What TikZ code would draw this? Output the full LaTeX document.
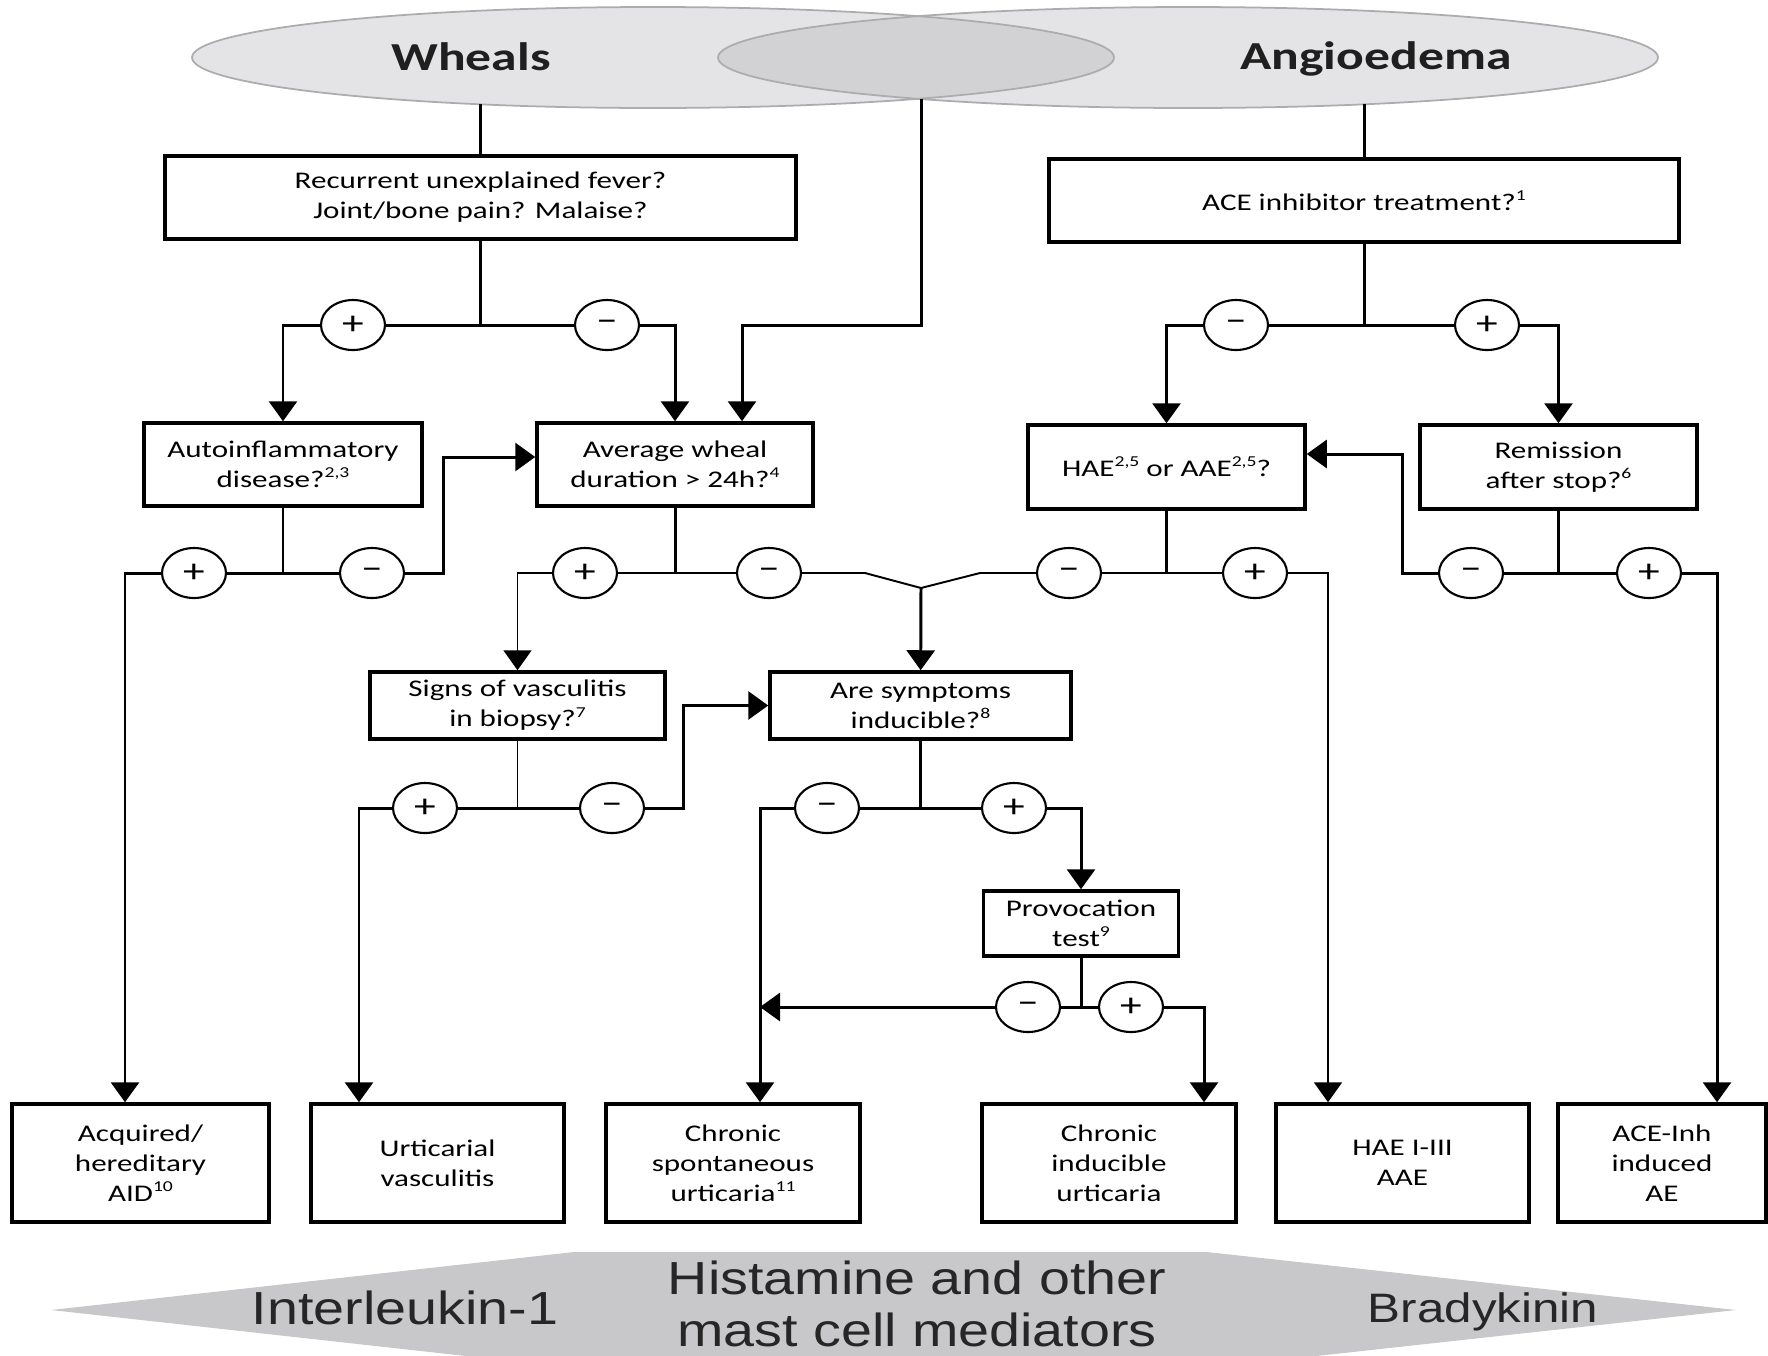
\documentclass[tikz,border=0pt]{standalone}
\usepackage{fontspec}
\setmainfont{Carlito}[FakeStretch=1.3]
\newfontfamily\bannerfont{Liberation Sans}[FakeStretch=1.2]
\usepackage{tikz}
\usetikzlibrary{shapes.geometric,arrows.meta,positioning,calc}
\definecolor{ellfill}{RGB}{228,228,230}
\definecolor{ellover}{RGB}{210,210,212}
\definecolor{elldraw}{RGB}{172,172,175}
\definecolor{banfill}{RGB}{200,200,202}
\newcommand{\fnote}[1]{\raisebox{0.85ex}{\fontsize{4.3}{5}\selectfont#1}}

\begin{document}
\begin{tikzpicture}[
    x=0.1mm, y=-0.1mm,
    qbox/.style={rectangle, draw, line width=1pt, inner sep=0pt, align=center, font=\fontsize{6.8}{8.5}\selectfont},
    outbox/.style={qbox, minimum height=11.8mm},
    pm/.style={ellipse, draw, line width=0.6pt, fill=white, minimum width=6.4mm, minimum height=5mm, inner sep=0pt, font=\fontsize{9.5}{9.5}\selectfont},
    wire/.style={line width=0.85pt},
    twire/.style={line width=0.55pt},
    arr/.style={-{Triangle[width=2.8mm, length=2mm]}},
    title/.style={anchor=base, font=\fontsize{11.3}{13}\selectfont\bfseries, text=black!88},
    band/.style={font=\bannerfont\fontsize{13.2}{14.7}\selectfont, align=center, text=black!85}
]
\useasboundingbox (0,0) rectangle (1768,1355);
\clip (0,0) rectangle (1768,1355);

% ═══════════════════════════════════════════════════════════════
% Top: Wheals / Angioedema
% ═══════════════════════════════════════════════════════════════
\fill[ellfill] (653,57.5) ellipse [x radius=46.1mm, y radius=5.05mm];
\fill[ellfill] (1188,57.5) ellipse [x radius=47mm, y radius=5.05mm];
\begin{scope}
\clip (653,57.5) ellipse [x radius=46.1mm, y radius=5.05mm];
\fill[ellover] (1188,57.5) ellipse [x radius=47mm, y radius=5.05mm];
\end{scope}
\draw[elldraw, line width=0.5pt] (653,57.5) ellipse [x radius=46.1mm, y radius=5.05mm];
\draw[elldraw, line width=0.5pt] (1188,57.5) ellipse [x radius=47mm, y radius=5.05mm];

\node[title] (wheals) at (471,70) {Wheals};
\node[title] (angio) at (1376,69) {Angioedema};

\coordinate (whbot) at (480.5,104.3);
\coordinate (ovbot) at (921,98.6);
\coordinate (anbot) at (1364,104.3);

% question boxes
\node[qbox, minimum width=63.1mm, minimum height=8.3mm] (rec) at (480.5,197.5) {Recurrent unexplained fever?\\Joint/bone pain? Malaise?};
\node[qbox, minimum width=63mm, minimum height=8.3mm] (ace) at (1364,200.5) {ACE inhibitor treatment?\fnote{1}};
\node[qbox, minimum width=27.8mm, minimum height=8.3mm] (aid) at (283,464.5) {Autoinflammatory\\disease?\fnote{2,3}};
\node[qbox, minimum width=27.6mm, minimum height=8.3mm] (avg) at (675,464.5) {Average wheal\\duration > 24h?\fnote{4}};
\node[qbox, minimum width=27.7mm, minimum height=8.4mm] (hae) at (1166.5,467) {HAE\fnote{2,5} or AAE\fnote{2,5}?};
\node[qbox, minimum width=27.7mm, minimum height=8.4mm] (rem) at (1558.5,467) {Remission\\after stop?\fnote{6}};
\node[qbox, minimum width=29.5mm, minimum height=6.7mm] (vasc) at (517.5,705.5) {Signs of vasculitis\\in biopsy?\fnote{7}};
\node[qbox, minimum width=30.1mm, minimum height=6.7mm] (ind) at (920.5,705.5) {Are symptoms\\inducible?\fnote{8}};
\node[qbox, minimum width=19.5mm, minimum height=6.5mm] (prov) at (1081,923.5) {Provocation\\test\fnote{9}};

% diagnoses
\node[outbox, minimum width=25.7mm] (aidres) at (140.5,1163) {Acquired/\\hereditary\\AID\fnote{10}};
\node[outbox, minimum width=25.3mm] (uv) at (437.5,1163) {Urticarial\\vasculitis};
\node[outbox, minimum width=25.4mm] (csu) at (733,1163) {Chronic\\spontaneous\\urticaria\fnote{11}};
\node[outbox, minimum width=25.4mm] (cindu) at (1109,1163) {Chronic\\inducible\\urticaria};
\node[outbox, minimum width=25.3mm] (haeres) at (1402.5,1163) {HAE I-III\\AAE};
\node[outbox, minimum width=20.8mm] (aceae) at (1662,1163) {ACE-Inh\\induced\\AE};

% ═══════════════════════════════════════════════════════════════
% Decisions
% ═══════════════════════════════════════════════════════════════
\draw[wire] (whbot) -- (rec);
\draw[wire] (anbot) -- (ace);

% fever?
\coordinate (ovbend) at (742,325);
\draw[wire] (rec) -- (rec |- ovbend);
\draw[wire,arr] (ovbot) |- (ovbend) -- (ovbend |- avg.north);
\node[pm] (p1) at (353,325) {+};
\node[pm] (m1) at (607,325) {--};
\draw[wire] (p1) -- (m1);
\draw[wire,arr] (p1) -| (aid);
\draw[wire,arr] (m1) -| (avg);

% ACE inhibitor?
\node[pm] (m2) at (1236,325) {--};
\node[pm] (p2) at (1487,325) {+};
\draw[wire] (ace) -- (ace |- m2);
\draw[wire] (m2) -- (p2);
\draw[wire,arr] (m2) -| (hae);
\draw[wire,arr] (p2) -| (rem);

% autoinflammatory?
\node[pm] (p3) at (194,573) {+};
\node[pm] (m3) at (372,573) {--};
\coordinate (c3) at (125,573);
\coordinate (c4) at (443,573);
\coordinate (c4b) at (443,457);
\draw[wire] (aid) -- (aid |- p3);
\draw[wire] (p3) -- (m3);
\draw[wire,arr] (p3) -- (c3) -- (c3 |- aidres.north);
\draw[wire,arr] (m3) -- (c4) -- (c4b) -- (c4b -| avg.west);

% wheal duration?
\node[pm] (p4) at (585,573) {+};
\node[pm] (m4) at (769,573) {--};
\coordinate (yl) at (865,573);
\coordinate (ym) at (921,588);
\coordinate (yr) at (980,573);
\draw[wire] (avg) -- (avg |- p4);
\draw[twire] (p4) -- (m4);
\draw[twire,arr] (p4) -| (vasc);
\draw[twire] (m4) -- (yl) -- (ym) -- (yr);
\draw[wire,arr] (ym) -- (ind);

% HAE or AAE?
\node[pm] (m5) at (1069,573) {--};
\node[pm] (p5) at (1255,573) {+};
\coordinate (c6) at (1328,573);
\draw[twire] (yr) -- (m5);
\draw[wire] (hae) -- (hae |- m5);
\draw[twire] (m5) -- (p5);
\draw[twire,arr] (p5) -- (c6) -- (c6 |- haeres.north);

% remission?
\node[pm] (m6) at (1471,573) {--};
\node[pm] (p6) at (1649,573) {+};
\coordinate (c7) at (1402,573);
\coordinate (c7b) at (1402,454);
\coordinate (c8) at (1717,573);
\draw[wire] (rem) -- (rem |- m6);
\draw[wire] (m6) -- (p6);
\draw[wire,arr] (m6) -- (c7) -- (c7b) -- (c7b -| hae.east);
\draw[wire,arr] (p6) -- (c8) -- (c8 |- aceae.north);

% vasculitis?
\node[pm] (p7) at (425,808) {+};
\node[pm] (m7) at (612,808) {--};
\coordinate (c9) at (359,808);
\coordinate (c10) at (683,808);
\draw[twire] (vasc) -- (vasc |- p7);
\draw[wire] (p7) -- (m7);
\draw[wire,arr] (p7) -- (c9) -- (c9 |- uv.north);
\draw[wire,arr] (m7) -- (c10) |- (ind);

% inducible?
\node[pm] (m8) at (827,808) {--};
\node[pm] (p8) at (1014,808) {+};
\coordinate (c11) at (760,808);
\draw[wire] (ind) -- (ind |- m8);
\draw[wire] (m8) -- (p8);
\draw[wire,arr] (m8) -- (c11) -- (c11 |- csu.north);
\draw[wire,arr] (p8) -| (prov);

% provocation test
\node[pm] (m9) at (1028,1007) {--};
\node[pm] (p9) at (1131,1007) {+};
\coordinate (c12) at (1204,1007);
\draw[wire] (prov) -- (prov |- m9);
\draw[wire] (m9) -- (p9);
\draw[wire,arr] (m9) -- (m9 -| c11);
\draw[wire,arr] (p9) -- (c12) -- (c12 |- cindu.north);

% ═══════════════════════════════════════════════════════════════
% Bottom: mediators
% ═══════════════════════════════════════════════════════════════
\fill[banfill] (51,1310) -- (574,1252) -- (1207,1252) -- (1736,1310) -- (1207,1368) -- (574,1368) -- cycle;
\node[band] (il) at (405,1308) {Interleukin-1};
\node[band] (hist) at (917,1304) {Histamine and other\\mast cell mediators};
\node[band, font=\bannerfont\fontsize{11.7}{14}\selectfont] (brady) at (1483,1312) {Bradykinin};

\end{tikzpicture}
\end{document}
